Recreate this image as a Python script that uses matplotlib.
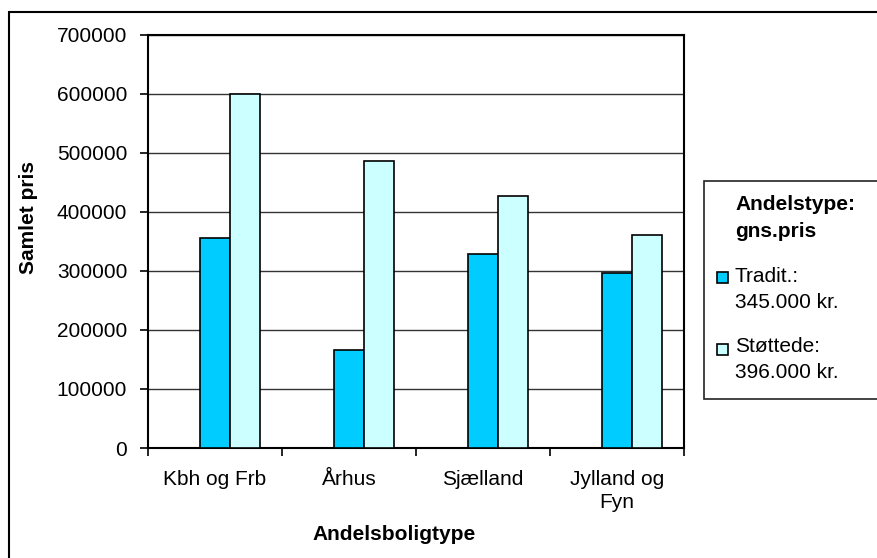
import matplotlib
matplotlib.use("Agg")
import matplotlib.pyplot as plt
from matplotlib.patches import Rectangle
import numpy as np

plt.rcParams['font.family'] = ['Liberation Sans', 'DejaVu Sans']

categories = ["Kbh og Frb", "Århus", "Sjælland", "Jylland og\nFyn"]
tradit = [356000, 166000, 329000, 297000]
stottede = [600000, 486000, 426500, 361000]
series_labels = ["Tradit.:", "Støttede:"]
series_avg = ["345.000 kr.", "396.000 kr."]
legend_title = ["Andelstype:", "gns.pris"]
yticks = [0, 100000, 200000, 300000, 400000, 500000, 600000, 700000]
color_tradit = "#00CCFF"
color_stott = "#CCFFFF"

FS = 15
W, H = 878, 558
fig = plt.figure(figsize=(W / 100, H / 100), dpi=100)

def fx(x):
    return x / W

def fy(y):
    return 1 - y / H

ax = fig.add_axes([fx(148), fy(448), fx(684) - fx(148), fy(34.7) - fy(448)])

x = np.arange(len(categories))
w = 1 / 4.5
ax.bar(x, tradit, width=w, color=color_tradit, edgecolor="black", linewidth=1.2, zorder=3)
ax.bar(x + w, stottede, width=w, color=color_stott, edgecolor="black", linewidth=1.2, zorder=3)

ax.set_xlim(-0.5, len(categories) - 0.5)
ax.set_ylim(0, 700000)
ax.set_yticks(yticks)
ax.set_yticklabels([str(v) for v in yticks], fontsize=FS)
ax.yaxis.grid(True, color="#333333", linewidth=1.0, zorder=0)
ax.set_axisbelow(True)

ax.set_xticks(np.arange(-0.5, len(categories), 1.0))
ax.set_xticklabels([])
ax.set_xticks(x, minor=True)
ax.set_xticklabels(categories, minor=True, fontsize=FS, linespacing=1.3)
ax.tick_params(axis='x', which='minor', length=0, pad=15.5)
ax.tick_params(axis='x', which='major', length=6, width=1.2, direction='out')
ax.tick_params(axis='y', length=6, width=1.2, direction='out', pad=9)
for s in ax.spines.values():
    s.set_linewidth(1.5)
    s.set_color("black")

fig.text(fx(394), fy(535), "Andelsboligtype", fontsize=FS, fontweight='bold',
         ha='center', va='center')
fig.text(fx(29), fy(217), "Samlet pris", fontsize=FS, fontweight='bold',
         ha='center', va='center', rotation=90)

# outer chart border (extends beyond the image at right/bottom)
fig.patches.append(Rectangle((fx(9), -0.2), 2, fy(12) + 0.2, transform=fig.transFigure,
                             fill=False, edgecolor="black", linewidth=1.5))

# legend box
fig.patches.append(Rectangle((fx(704), fy(399)), 1, fy(181) - fy(399), transform=fig.transFigure,
                             facecolor="white", edgecolor="#222222", linewidth=1.2))
fig.text(fx(735), fy(205), legend_title[0], fontsize=FS, fontweight='bold', va='center', ha='left')
fig.text(fx(735), fy(232), legend_title[1], fontsize=FS, fontweight='bold', va='center', ha='left')

entries = [(color_tradit, 272.3, 276, 302), (color_stott, 344, 347, 373)]
for (col, sq_top, y1, y2), lab, avg in zip(entries, series_labels, series_avg):
    fig.patches.append(Rectangle((fx(717), fy(sq_top + 11)), fx(11), fy(0) - fy(11),
                                 transform=fig.transFigure, facecolor=col,
                                 edgecolor="black", linewidth=1.2))
    fig.text(fx(735), fy(y1), lab, fontsize=FS, va='center', ha='left')
    fig.text(fx(735), fy(y2), avg, fontsize=FS, va='center', ha='left')

fig.savefig("out.png", dpi=100)
